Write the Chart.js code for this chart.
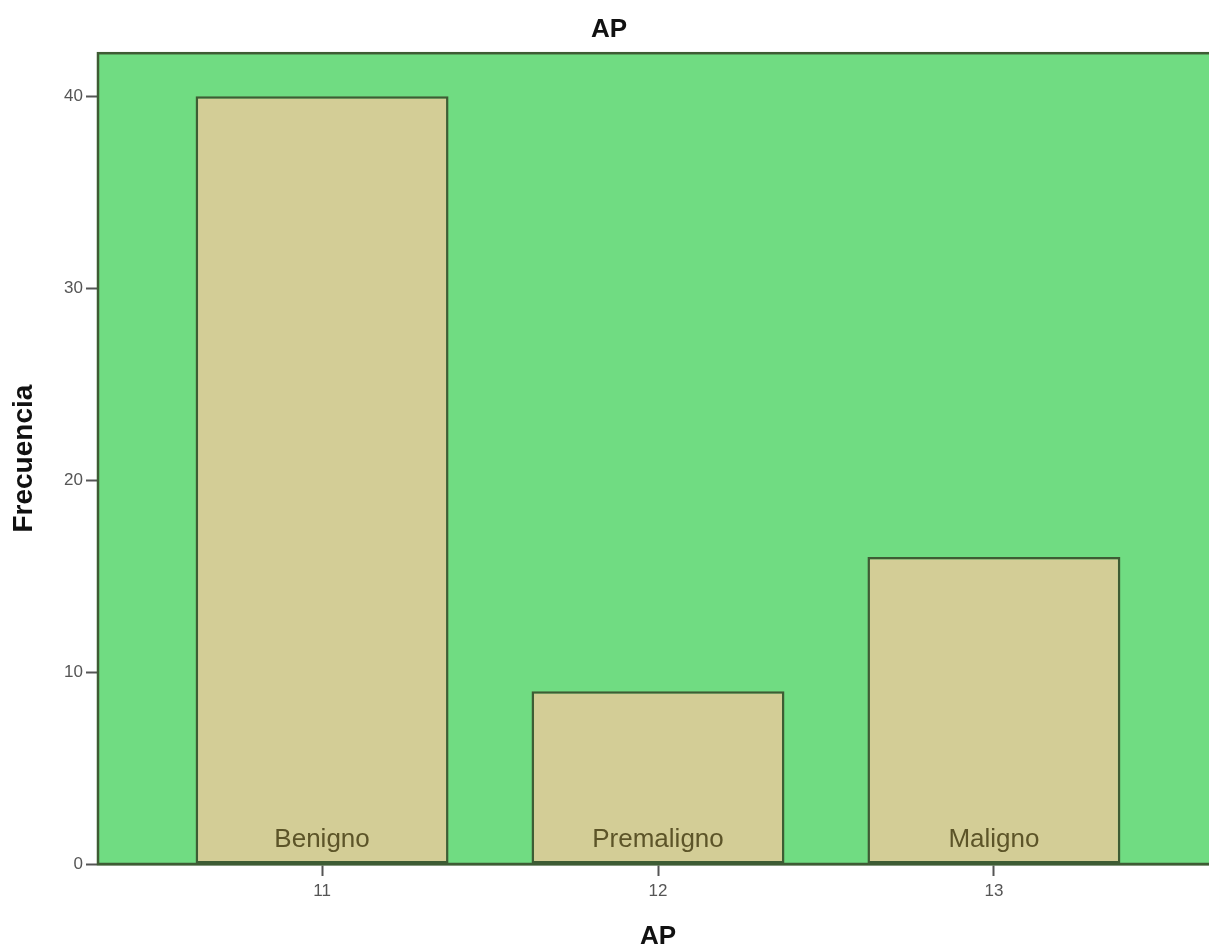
<!DOCTYPE html>
<html>
<head>
<meta charset="utf-8">
<script src="https://cdn.jsdelivr.net/npm/chart.js@4"></script>
<style>
  html, body { margin: 0; padding: 0; background: #ffffff; overflow: hidden; }
  #wrap { width: 1230px; height: 952px; }
</style>
</head>
<body>
<div id="wrap"><canvas id="c" width="1230" height="952"></canvas></div>
<script>
// AP frequency by category
const codes = [11, 12, 13];
const categories = ['Benigno', 'Premaligno', 'Maligno'];
const frequencies = [40, 9, 16];
const yTicks = [0, 10, 20, 30, 40];

const FONT = "'Liberation Sans', Arial, sans-serif";
const PLOT_BG = '#70dc82';
const BAR_FILL = '#d3cd96';
const EDGE = '#3e5c34';

// Green plot background and frame around the chart area
const plotFrame = {
  id: 'plotFrame',
  beforeDatasetsDraw(chart) {
    const a = chart.chartArea, ctx = chart.ctx;
    ctx.save();
    ctx.fillStyle = PLOT_BG;
    ctx.fillRect(a.left, a.top, a.right - a.left, a.bottom - a.top);
    ctx.restore();
  },
  afterDatasetsDraw(chart) {
    const a = chart.chartArea, ctx = chart.ctx;
    ctx.save();
    ctx.strokeStyle = EDGE;
    ctx.lineWidth = 2.5;
    ctx.strokeRect(a.left, a.top, a.right - a.left, a.bottom - a.top);
    ctx.restore();
  }
};

// Category names written inside the foot of each bar
const barNames = {
  id: 'barNames',
  afterDatasetsDraw(chart) {
    const meta = chart.getDatasetMeta(0);
    const ctx = chart.ctx;
    const base = chart.scales.y.getPixelForValue(0);
    ctx.save();
    ctx.font = '26px ' + FONT;
    ctx.fillStyle = '#5c5428';
    ctx.textAlign = 'center';
    ctx.textBaseline = 'alphabetic';
    meta.data.forEach((bar, i) => {
      ctx.fillText(categories[i], bar.x, base - 17);
    });
    ctx.restore();
  }
};

new Chart(document.getElementById('c'), {
  type: 'bar',
  data: {
    datasets: [{
      data: codes.map((c, i) => ({ x: c, y: frequencies[i] })),
      backgroundColor: BAR_FILL,
      borderColor: EDGE,
      borderWidth: 2.5,
      borderSkipped: false,
      categoryPercentage: 1,
      barPercentage: 0.753
    }]
  },
  options: {
    responsive: false,
    animation: false,
    layout: { padding: { left: 0, right: 12, top: 0, bottom: 0 } },
    plugins: {
      legend: { display: false },
      tooltip: { enabled: false },
      title: {
        display: true,
        text: 'AP',
        color: '#111111',
        font: { family: FONT, size: 26, weight: 'bold', lineHeight: 1.2 },
        padding: { top: 14, bottom: 8 }
      }
    },
    scales: {
      x: {
        type: 'linear',
        offset: false,
        min: codes[0] - 0.667,
        max: codes[codes.length - 1] + 0.667,
        afterBuildTicks(scale) { scale.ticks = codes.map(v => ({ value: v })); },
        afterFit(scale) { scale.height = 88; },
        grid: { display: true, offset: false, drawOnChartArea: false, drawTicks: true, tickLength: 12, tickColor: '#555555', tickWidth: 2 },
        border: { display: true, color: EDGE, width: 2.5 },
        ticks: { color: '#555555', padding: 5, font: { family: FONT, size: 17 }, callback: v => String(v) },
        title: {
          display: true,
          text: 'AP',
          color: '#111111',
          font: { family: FONT, size: 26, weight: 'bold', lineHeight: 1.2 },
          padding: { top: 0, bottom: 0 }
        }
      },
      y: {
        min: 0,
        max: 42.24,
        afterBuildTicks(scale) { scale.ticks = yTicks.map(v => ({ value: v })); },
        afterFit(scale) { scale.width = 98; },
        grid: { display: true, drawOnChartArea: false, drawTicks: true, tickLength: 12, tickColor: '#555555', tickWidth: 2 },
        border: { display: true, color: EDGE, width: 2.5 },
        ticks: { color: '#555555', padding: 3, font: { family: FONT, size: 17 } },
        title: {
          display: true,
          text: 'Frecuencia',
          color: '#111111',
          font: { family: FONT, size: 28, weight: 'bold', lineHeight: 1.2 },
          padding: { top: 7, bottom: 0 }
        }
      }
    }
  },
  plugins: [plotFrame, barNames]
});
</script>
</body>
</html>
